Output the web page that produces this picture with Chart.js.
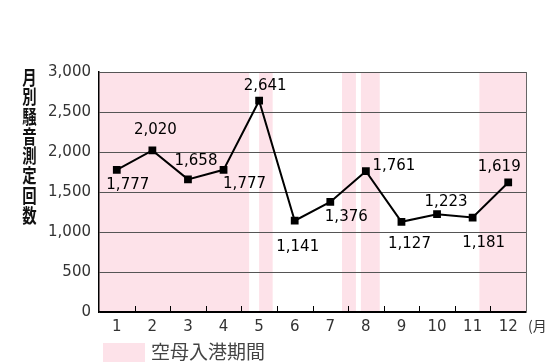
<!DOCTYPE html>
<html>
<head>
<meta charset="utf-8">
<script src="https://cdn.jsdelivr.net/npm/chart.js@4"></script>
<style>
  html, body { margin: 0; padding: 0; background: #fff; }
  #wrap { width: 547px; height: 362px; }
</style>
</head>
<body>
<div id="wrap"><canvas id="noiseChart" width="547" height="362"></canvas></div>
<script>
/* ================= DATA ================= */
const months = ["1", "2", "3", "4", "5", "6", "7", "8", "9", "10", "11", "12"];
const counts = [1777, 2020, 1658, 1777, 2641, 1141, 1376, 1761, 1127, 1223, 1181, 1619];
const yTicks = [0, 500, 1000, 1500, 2000, 2500, 3000];

// carrier in-port periods, in month units counted from the start of January
const portStart = [0, 4.5, 6.83, 7.36, 10.69];
const portEnd = [4.22, 4.88, 7.22, 7.89, 12];

const yTitle = "月別騒音測定回数";
const unitLabel = "(月";
const legendLabel = "空母入港期間";

// where each value label sits relative to its point
const labelOffsets = [
  [11, 15], [3, -20], [8, -18], [21, 14], [6, -15], [3, 26],
  [16, 15], [28, -5], [8, 22], [9, -12], [11, 26], [-9, -15]
];

const JP_FONT = '"Noto Sans CJK JP", "Noto Sans", sans-serif';
const NUM_FONT = '"DejaVu Sans", sans-serif';
const PINK = "#fde2e9";

/* ================= HELPERS ================= */
function monthX(chart, t) {
  const a = chart.chartArea;
  return a.left + t * (a.right - a.left) / months.length;
}

/* ================= PLUGINS ================= */
const portShading = {
  id: "portShading",
  beforeDraw(chart) {
    const ctx = chart.ctx;
    const a = chart.chartArea;
    ctx.save();
    ctx.fillStyle = PINK;
    portStart.forEach((s, i) => {
      const x1 = monthX(chart, s);
      const x2 = monthX(chart, portEnd[i]);
      ctx.fillRect(x1, a.top, x2 - x1, a.bottom - a.top);
    });
    ctx.restore();
  }
};

const extras = {
  id: "extras",
  afterDraw(chart) {
    const ctx = chart.ctx;
    const a = chart.chartArea;
    ctx.save();

    // right border
    ctx.strokeStyle = "#666";
    ctx.lineWidth = 1;
    ctx.beginPath();
    ctx.moveTo(Math.round(a.right) + 0.5, a.top);
    ctx.lineTo(Math.round(a.right) + 0.5, a.bottom);
    ctx.stroke();

    // inner tick marks between months
    ctx.strokeStyle = "#000";
    for (let t = 1; t < months.length; t++) {
      const x = Math.round(monthX(chart, t)) + 0.5;
      ctx.beginPath();
      ctx.moveTo(x, a.bottom);
      ctx.lineTo(x, a.bottom - 6);
      ctx.stroke();
    }

    // value labels
    const meta = chart.getDatasetMeta(0);
    ctx.fillStyle = "#000";
    ctx.font = "15px " + NUM_FONT;
    ctx.textAlign = "center";
    ctx.textBaseline = "middle";
    meta.data.forEach((pt, i) => {
      const off = labelOffsets[i];
      ctx.fillText(counts[i].toLocaleString("en-US"), pt.x + off[0], pt.y + off[1]);
    });

    // month unit after 12
    ctx.fillStyle = "#333";
    ctx.font = "14px " + JP_FONT;
    ctx.textAlign = "left";
    ctx.fillText(unitLabel, a.right + 2, 326);

    // vertical y title (narrow glyphs)
    ctx.fillStyle = "#111";
    ctx.font = "bold 18px " + JP_FONT;
    ctx.textAlign = "center";
    [...yTitle].forEach((ch, i) => {
      ctx.save();
      ctx.translate(29.5, 77.5 + i * 19.7);
      ctx.scale(0.8, 1.05);
      ctx.fillText(ch, 0, 0);
      ctx.restore();
    });

    // legend
    ctx.fillStyle = PINK;
    ctx.fillRect(103, 343, 42, 19);
    ctx.fillStyle = "#444";
    ctx.font = "19px " + JP_FONT;
    ctx.textAlign = "left";
    ctx.fillText(legendLabel, 151, 352);

    ctx.restore();
  }
};

/* ================= CHART ================= */
new Chart(document.getElementById("noiseChart"), {
  type: "line",
  data: {
    labels: months,
    datasets: [{
      data: counts,
      borderColor: "#000",
      borderWidth: 2,
      backgroundColor: "#000",
      pointStyle: "rect",
      pointRadius: 5.5,
      pointBackgroundColor: "#000",
      pointBorderWidth: 0,
      tension: 0
    }]
  },
  options: {
    responsive: false,
    animation: false,
    devicePixelRatio: 1,
    layout: { padding: { top: 72, right: 21, left: 0, bottom: 0 } },
    plugins: {
      legend: { display: false },
      tooltip: { enabled: false }
    },
    scales: {
      x: {
        offset: true,
        grid: { display: false, drawTicks: false },
        border: { display: true, color: "#000", width: 1.5 },
        ticks: {
          color: "#333",
          font: { family: NUM_FONT, size: 15 },
          padding: 6,
          maxRotation: 0
        },
        afterFit(scale) { scale.height = 50; }
      },
      y: {
        min: 0,
        max: 3000,
        afterBuildTicks(scale) { scale.ticks = yTicks.map(v => ({ value: v })); },
        grid: {
          color: ctx => (ctx.tick && ctx.tick.value === 0 ? "#000" : "#555"),
          lineWidth: 1,
          drawTicks: false
        },
        border: { display: true, color: "#000", width: 1.5 },
        ticks: {
          color: "#333",
          font: { family: NUM_FONT, size: 15 },
          padding: 8,
          callback: v => v.toLocaleString("en-US")
        },
        afterFit(scale) { scale.width = 99; }
      }
    }
  },
  plugins: [portShading, extras]
});
</script>
</body>
</html>
